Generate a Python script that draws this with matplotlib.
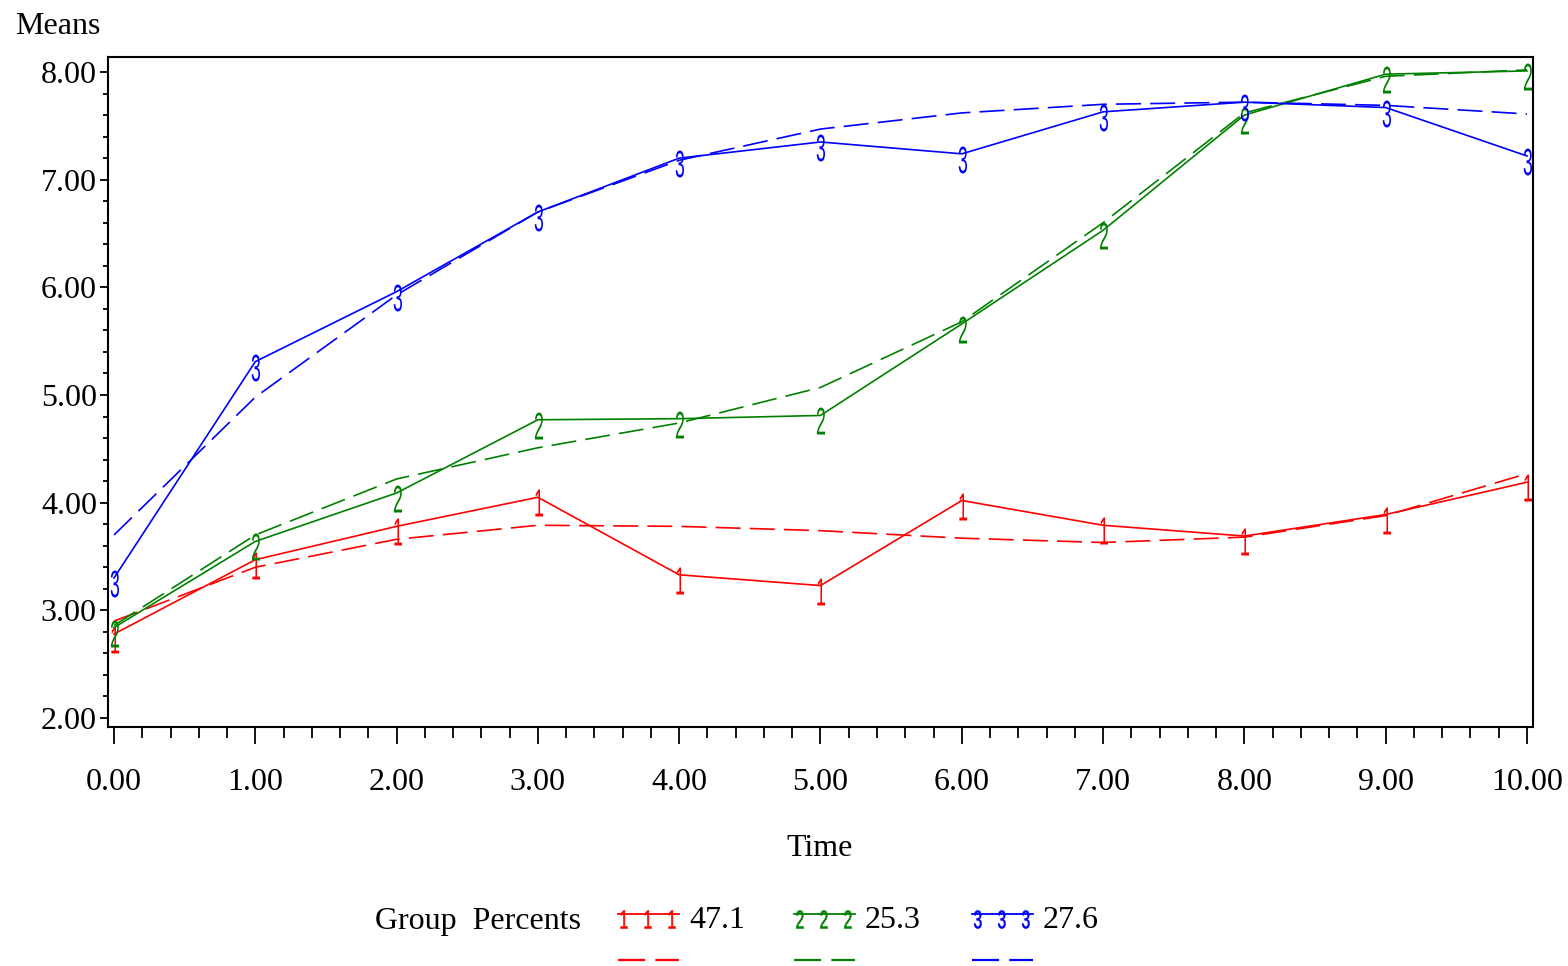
import numpy as np
import matplotlib
matplotlib.use("Agg")
import matplotlib.pyplot as plt
from matplotlib.lines import Line2D
from matplotlib.path import Path
from matplotlib.textpath import TextPath
from matplotlib.font_manager import FontProperties

# ---------------- data ----------------
time = [0, 1, 2, 3, 4, 5, 6, 7, 8, 9, 10]
g1_obs = [2.78, 3.47, 3.78, 4.05, 3.33, 3.23, 4.02, 3.79, 3.69, 3.89, 4.19]
g1_fit = [2.90, 3.40, 3.66, 3.79, 3.78, 3.74, 3.67, 3.63, 3.68, 3.88, 4.27]
g2_obs = [2.84, 3.64, 4.09, 4.77, 4.78, 4.81, 5.66, 6.53, 7.60, 7.98, 8.01]
g2_fit = [2.86, 3.70, 4.22, 4.51, 4.74, 5.07, 5.68, 6.60, 7.62, 7.96, 8.02]
g3_obs = [3.30, 5.31, 5.96, 6.70, 7.20, 7.35, 7.24, 7.63, 7.72, 7.67, 7.22]
g3_fit = [3.70, 4.98, 5.93, 6.70, 7.18, 7.47, 7.62, 7.70, 7.72, 7.69, 7.61]
groups = ["1", "2", "3"]
percents = ["47.1", "25.3", "27.6"]
colors = ["#ff0000", "#008000", "#0000ff"]
xticks = [0, 1, 2, 3, 4, 5, 6, 7, 8, 9, 10]
yticks = [2, 3, 4, 5, 6, 7, 8]

W, H = 1568, 966
FS = 23
plt.rcParams['font.family'] = ['Liberation Serif', 'DejaVu Serif']

fig = plt.figure(figsize=(W / 100, H / 100), dpi=100)
ax = fig.add_axes([108 / W, 1 - 727 / H, (1533 - 108) / W, (727 - 57) / H])


def glyph_marker(ch, width, top, bottom):
    tp = TextPath((0, 0), ch, size=10, prop=FontProperties(family='Liberation Sans'))
    v = tp.vertices.copy()
    x0, x1 = v[:, 0].min(), v[:, 0].max()
    y0, y1 = v[:, 1].min(), v[:, 1].max()
    v[:, 0] = (v[:, 0] - (x0 + x1) / 2) / (x1 - x0) * width
    v[:, 1] = bottom + (v[:, 1] - y0) / (y1 - y0) * (top - bottom)
    m = np.abs(v).max()
    return Path(v, tp.codes), 2 * m * 0.72


obs = [g1_obs, g2_obs, g3_obs]
fit = [g1_fit, g2_fit, g3_fit]
for i in range(3):
    mp, ms = glyph_marker(groups[i], 9, 8, -19)
    ax.plot(time, fit[i], color=colors[i], lw=1.2, dashes=(15, 5.5))
    ax.plot(time, obs[i], color=colors[i], lw=1.2, marker=mp, markersize=ms,
            markerfacecolor=colors[i], markeredgewidth=0)

ax.set_xlim(-6 / 141.3, 10 + 6 / 141.3)
ax.set_ylim(2 - 9 / 107.67, 8 + 15 / 107.67)
ax.set_xticks(xticks)
ax.set_xticklabels([f"{v:.2f}" for v in xticks], fontsize=FS)
ax.set_yticks(yticks)
ax.set_yticklabels([f"{v:.2f}" for v in yticks], fontsize=FS)
ax.set_xticks(np.arange(0, 10.01, 0.2), minor=True)
ax.set_yticks(np.arange(2, 8.01, 0.2), minor=True)
ax.tick_params(axis='x', which='major', direction='out', length=12.5, width=1.3, pad=17)
ax.tick_params(axis='x', which='minor', direction='out', length=8, width=1.3)
ax.tick_params(axis='y', which='major', direction='out', length=5.5, width=1.3, pad=2.5)
ax.tick_params(axis='y', which='minor', direction='out', length=3.5, width=1.3)
for s in ax.spines.values():
    s.set_linewidth(1.5)

fig.text(15 / W, 1 - 27 / H, "Means", fontsize=FS, ha='left', va='center')
fig.text(820 / W, 1 - 849 / H, "Time", fontsize=FS, ha='center', va='center')

# ---------------- legend ----------------
fig.text(375 / W, 1 - 921 / H, "Group  Percents", fontsize=FS, ha='left', va='center')
leg_x = [618, 794, 972]
for i in range(3):
    x0 = leg_x[i]
    x1 = x0 + 61
    fig.add_artist(Line2D([x0 / W, x1 / W], [1 - 914 / H, 1 - 914 / H],
                          transform=fig.transFigure, color=colors[i], lw=1.3))
    mp, ms = glyph_marker(groups[i], 8, 4, -14)
    mx = [x0 + 5, x0 + 29, x0 + 53]
    fig.add_artist(Line2D([m / W for m in mx], [1 - 914 / H] * 3,
                          transform=fig.transFigure, linestyle='none', marker=mp,
                          markersize=ms, markerfacecolor=colors[i],
                          markeredgewidth=0.4, markeredgecolor=colors[i]))
    fig.add_artist(Line2D([x0 / W, x1 / W], [1 - 960 / H, 1 - 960 / H],
                          transform=fig.transFigure, color=colors[i], lw=1.6,
                          dashes=(12.2, 4.6)))
    fig.text((x1 + 10) / W, 1 - 921 / H, percents[i], fontsize=FS, ha='left', va='center')

fig.savefig("out.png", dpi=100)
